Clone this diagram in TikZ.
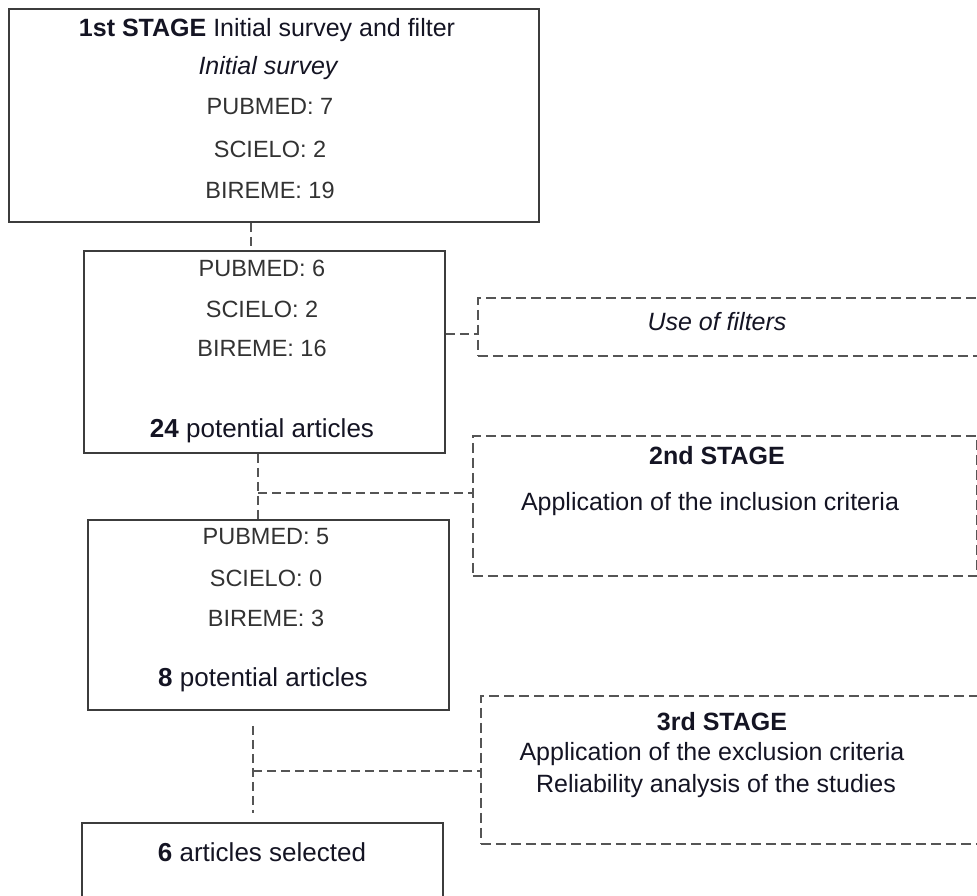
\documentclass[tikz,border=0pt]{standalone}
\usepackage{fontspec}
\setmainfont{Liberation Sans}
\usetikzlibrary{positioning,calc}
\definecolor{framegray}{RGB}{60,60,60}
\definecolor{dashgray}{RGB}{85,85,85}
\definecolor{inkdark}{RGB}{20,20,35}
\definecolor{inkgray}{RGB}{50,50,50}

\begin{document}
\begin{tikzpicture}[x=1pt, y=-1pt,
  solidbox/.style={draw=framegray, line width=1.8pt, inner sep=0pt, anchor=north west},
  dashbox/.style={draw=dashgray, line width=1.6pt, dash pattern=on 10pt off 5pt, inner sep=0pt, anchor=north west},
  link/.style={draw=dashgray, line width=1.6pt, dash pattern=on 9pt off 5pt},
  maintext/.style={font=\fontsize{25}{30}\selectfont, text=inkdark, inner sep=0pt},
  counttext/.style={font=\fontsize{26}{31}\selectfont, text=inkdark, inner sep=0pt},
  dbtext/.style={font=\fontsize{23.5}{28}\selectfont, text=inkgray, inner sep=0pt}]
\useasboundingbox (0,0) rectangle (977,896);

% boxes of the left column
\node[solidbox, minimum width=530pt, minimum height=213pt] (survey) at (8,8) {};
\node[solidbox, minimum width=361pt, minimum height=202pt] (filtered) at (83,250) {};
\node[solidbox, minimum width=361pt, minimum height=190pt] (included) at (87,519) {};
\node[solidbox, minimum width=361pt, minimum height=100pt] (selected) at (81,822) {};

% boxes of the right column
\node[dashbox, minimum width=520pt, minimum height=58pt] (filters) at (477,297) {};
\node[dashbox, minimum width=504pt, minimum height=140pt] (stage2) at (472,435) {};
\node[dashbox, minimum width=520pt, minimum height=148pt] (stage3) at (480,695) {};

% 1st stage
\node[maintext] (surveyhead) at (267,30) {\textbf{1st STAGE} Initial survey and filter};
\node[maintext] (surveysub) at (268,68) {\itshape Initial survey};
\foreach \db/\y in {PUBMED: 7/107, SCIELO: 2/149, BIREME: 19/190}
  \node[dbtext] (survey\y) at (270,\y) {\db};

\foreach \db/\y in {PUBMED: 6/268, SCIELO: 2/309, BIREME: 16/348}
  \node[dbtext] (filtered\y) at (262,\y) {\db};
\node[counttext] (filteredsum) at (262,431) {\textbf{24} potential articles};

\node[maintext] (filterslabel) at (717,322) {\itshape Use of filters};

% 2nd stage
\node[maintext] (stage2head) at (717,456) {\textbf{2nd STAGE}};
\node[maintext] (stage2text) at (710,504) {Application of the inclusion criteria};

\foreach \db/\y in {PUBMED: 5/537, SCIELO: 0/578, BIREME: 3/618}
  \node[dbtext] (included\y) at (266,\y) {\db};
\node[counttext] (includedsum) at (263,680) {\textbf{8} potential articles};

% 3rd stage
\node[maintext] (stage3head) at (722,722) {\textbf{3rd STAGE}};
\node[maintext] (stage3texta) at (712,754) {Application of the exclusion criteria};
\node[maintext] (stage3textb) at (716,786) {Reliability analysis of the studies};

\node[counttext] (selectedsum) at (262,852) {\textbf{6} articles selected};

% connectors
\coordinate (spineA) at (251,0);
\coordinate (spineB) at (258,0);
\coordinate (spineC) at (253,0);
\coordinate (tapA) at (0,334);
\coordinate (tapB) at (0,493);
\coordinate (tapC) at (0,771);
\draw[link] (survey.south -| spineA) -- (filtered.north -| spineA);
\draw[link] (filtered.east |- tapA) -- (filters.west |- tapA);
\draw[link] (filtered.south -| spineB) -- (included.north -| spineB);
\draw[link] (spineB |- tapB) -- (stage2.west |- tapB);
\draw[link, shorten <=15pt, shorten >=9pt] (included.south -| spineC) -- (selected.north -| spineC);
\draw[link] (spineC |- tapC) -- (stage3.west |- tapC);
\end{tikzpicture}
\end{document}
